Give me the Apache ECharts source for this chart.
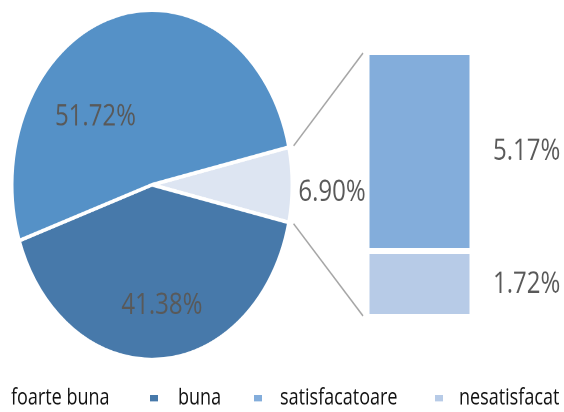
<!DOCTYPE html>
<html>
<head>
<meta charset="utf-8">
<script src="https://cdn.jsdelivr.net/npm/echarts@6/dist/echarts.min.js"></script>
<style>
  html, body { margin: 0; padding: 0; background: #ffffff; overflow: hidden; }
  #wrap { width: 564px; height: 412px; overflow: hidden; }
  /* the chart is laid out at 330px and stretched vertically to fill 412px */
  #chart { width: 564px; height: 330px; transform: scaleY(1.2485); transform-origin: 0 0; }
</style>
</head>
<body>
<div id="wrap"><div id="chart"></div></div>
<script>
// Calificative (%)
const pieNames = ['foarte buna', 'buna'];
const pieValues = [51.72, 41.38];
const otherValue = 6.90;
const barNames = ['satisfacatoare', 'nesatisfacat'];
const barValues = [5.17, 1.72];

const colors = {
  'foarte buna': '#5591C7',
  'buna': '#4779AA',
  'other': '#DDE5F2',
  'satisfacatoare': '#83ADDB',
  'nesatisfacat': '#B7CBE7'
};

const FONT = '"Open Sans", "Noto Sans", sans-serif';
const LABEL_COLOR = '#595959';
const LABEL_SIZE = 24;

// pie geometry
const pieCenter = [152, 148];
const pieRadius = 140;
// the broken-out slice is centred on the right-hand side
const halfOther = otherValue / 100 * 360 / 2;

// bar-of-pie stack geometry
const barGrid = { left: 367, top: 41.5, width: 105, height: 212.5 };
const barMax = barValues.reduce((a, b) => a + b, 0);

const chart = echarts.init(document.getElementById('chart'), null, { devicePixelRatio: 2 });

const pct = v => v.toFixed(2) + '%';
const labelBase = {
  show: true, position: 'inside', color: LABEL_COLOR,
  fontFamily: FONT, fontSize: LABEL_SIZE, formatter: p => pct(p.value)
};

const pieData = [
  { name: 'other', value: otherValue, itemStyle: { color: colors.other },
    label: Object.assign({}, labelBase, { offset: [107, 6] }) },
  { name: pieNames[1], value: pieValues[1], itemStyle: { color: colors[pieNames[1]] },
    label: Object.assign({}, labelBase, { offset: [6, 24] }) },
  { name: pieNames[0], value: pieValues[0], itemStyle: { color: colors[pieNames[0]] },
    label: Object.assign({}, labelBase, { offset: [-37, 16] }) }
];

function legendAt(name, left, gap) {
  return {
    data: [name], left: left, top: 305,
    itemWidth: name === 'foarte buna' ? 0 : 10, itemHeight: 7,
    icon: 'rect', selectedMode: false,
    textStyle: { fontFamily: FONT, fontSize: 18, color: '#111111', padding: [0, 0, 0, gap] }
  };
}

// connector lines from the slice edges to the stacked bar
function connectors() {
  const a = halfOther * Math.PI / 180;
  const r = pieRadius + 5;
  const sx = pieCenter[0] + r * Math.cos(a);
  const ex = barGrid.left - 4;
  const style = { stroke: '#A6A6A6', lineWidth: 1.4 };
  return [
    { type: 'line', silent: true, shape: { x1: sx, y1: pieCenter[1] - r * Math.sin(a), x2: ex, y2: barGrid.top + 1 }, style: style },
    { type: 'line', silent: true, shape: { x1: sx, y1: pieCenter[1] + r * Math.sin(a), x2: ex, y2: barGrid.top + barGrid.height - 1 }, style: style }
  ];
}

chart.setOption({
  animation: false,
  backgroundColor: '#ffffff',
  legend: [
    legendAt('foarte buna', 0, 0),
    legendAt('buna', 143, 14),
    legendAt('satisfacatoare', 247, 12),
    legendAt('nesatisfacat', 428, 10)
  ],
  grid: barGrid,
  xAxis: { type: 'category', data: [''], show: false },
  yAxis: { type: 'value', min: 0, max: barMax, show: false },
  graphic: connectors(),
  series: [
    {
      type: 'pie',
      center: pieCenter,
      radius: pieRadius,
      startAngle: halfOther,
      clockwise: true,
      labelLine: { show: false },
      itemStyle: { borderColor: '#ffffff', borderWidth: 3 },
      emphasis: { disabled: true },
      data: pieData
    },
    {
      type: 'bar', name: barNames[1], stack: 'rest', barWidth: '100%',
      data: [barValues[1]],
      itemStyle: { color: colors[barNames[1]], borderColor: '#ffffff', borderWidth: 2.5 },
      label: { show: true, position: 'right', distance: 21, color: LABEL_COLOR, fontFamily: FONT, fontSize: LABEL_SIZE, formatter: p => pct(p.value) }
    },
    {
      type: 'bar', name: barNames[0], stack: 'rest', barWidth: '100%',
      data: [barValues[0]],
      itemStyle: { color: colors[barNames[0]], borderColor: '#ffffff', borderWidth: 2.5 },
      label: { show: true, position: 'right', distance: 21, color: LABEL_COLOR, fontFamily: FONT, fontSize: LABEL_SIZE, formatter: p => pct(p.value) }
    }
  ]
});
</script>
</body>
</html>
